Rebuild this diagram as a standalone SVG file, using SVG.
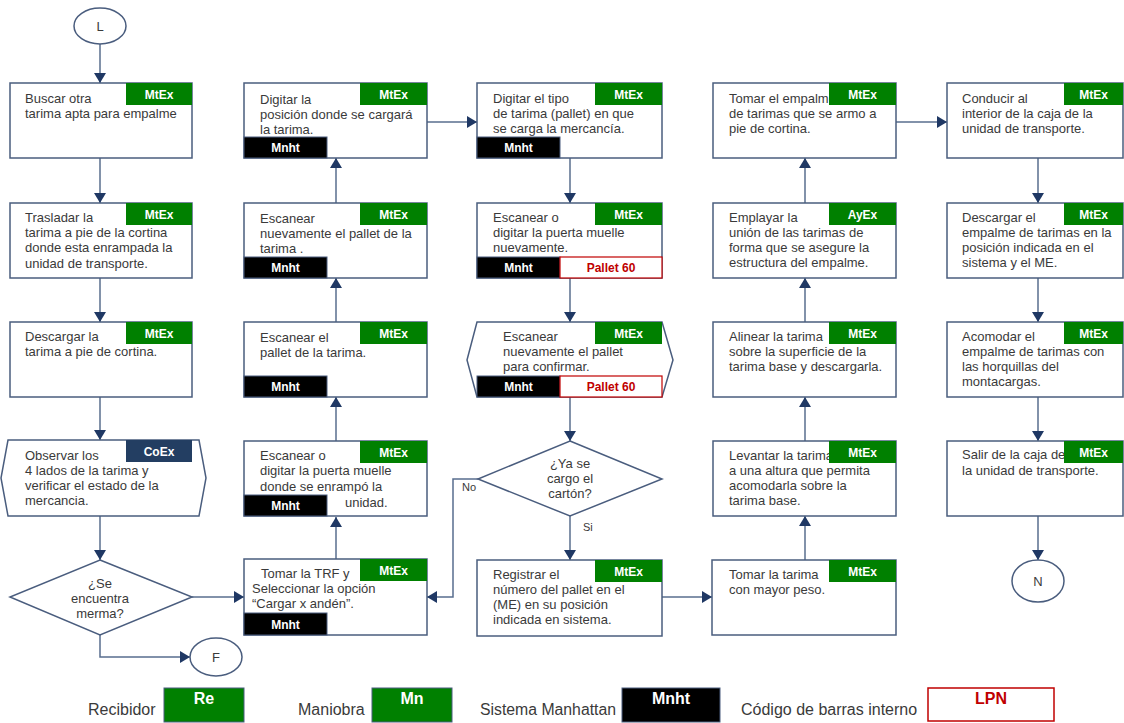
<svg xmlns="http://www.w3.org/2000/svg" width="1124" height="723" viewBox="0 0 1124 723">
<style>
.box{fill:#fff;stroke:#4A5D7E;stroke-width:1.5}
.t{font-family:"Liberation Sans",Arial,sans-serif;font-size:13px;fill:#3a3a3a}
.tc{font-family:"Liberation Sans",Arial,sans-serif;font-size:13px;fill:#3a3a3a;text-anchor:middle}
.sm{font-family:"Liberation Sans",Arial,sans-serif;font-size:11px;fill:#3a3a3a}
.g{fill:#008000}
.co{fill:#233E62}
.mn{fill:#000;stroke:#4A5D7E;stroke-width:1}
.p6{fill:#fff;stroke:#C00000;stroke-width:1.2}
.bt{font-family:"Liberation Sans",Arial,sans-serif;font-size:12px;font-weight:bold;fill:#fff;text-anchor:middle}
.rt{font-family:"Liberation Sans",Arial,sans-serif;font-size:12px;font-weight:bold;fill:#C00000;text-anchor:middle}
.ln{fill:none;stroke:#586E8E;stroke-width:1.5}
.lg{font-family:"Liberation Sans",Arial,sans-serif;font-size:16px;fill:#3a3a3a}
.lb{font-family:"Liberation Sans",Arial,sans-serif;font-size:16px;font-weight:bold;fill:#fff;text-anchor:middle}
.lr{font-family:"Liberation Sans",Arial,sans-serif;font-size:16px;font-weight:bold;fill:#C00000;text-anchor:middle}
</style>
<defs>
<marker id="ah" markerWidth="11" markerHeight="12" refX="10" refY="6" orient="auto" markerUnits="userSpaceOnUse">
<path d="M0,0 L10,6 L0,12 z" fill="#1F3864"/>
</marker>
</defs>
<rect width="1124" height="723" fill="#fff"/>

<g id="connectors">
<path class="ln" d="M100,44 V83" marker-end="url(#ah)"/>
<path class="ln" d="M100,158 V203" marker-end="url(#ah)"/>
<path class="ln" d="M100,278 V322" marker-end="url(#ah)"/>
<path class="ln" d="M100,397 V440" marker-end="url(#ah)"/>
<path class="ln" d="M100,516 V560" marker-end="url(#ah)"/>
<path class="ln" d="M192,597 H244" marker-end="url(#ah)"/>
<path class="ln" d="M100,635 V657 H190" marker-end="url(#ah)"/>
<path class="ln" d="M336,559 V517" marker-end="url(#ah)"/>
<path class="ln" d="M336,441 V397" marker-end="url(#ah)"/>
<path class="ln" d="M336,322 V278" marker-end="url(#ah)"/>
<path class="ln" d="M336,203 V158" marker-end="url(#ah)"/>
<path class="ln" d="M427,122 H477" marker-end="url(#ah)"/>
<path class="ln" d="M570,158 V203" marker-end="url(#ah)"/>
<path class="ln" d="M570,278 V322" marker-end="url(#ah)"/>
<path class="ln" d="M570,397 V441" marker-end="url(#ah)"/>
<path class="ln" d="M570,516 V560" marker-end="url(#ah)"/>
<path class="ln" d="M478,479 H453 V597 H427" marker-end="url(#ah)"/>
<path class="ln" d="M662,597 H712" marker-end="url(#ah)"/>
<path class="ln" d="M805,560 V516" marker-end="url(#ah)"/>
<path class="ln" d="M805,441 V397" marker-end="url(#ah)"/>
<path class="ln" d="M805,322 V278" marker-end="url(#ah)"/>
<path class="ln" d="M805,203 V158" marker-end="url(#ah)"/>
<path class="ln" d="M896,122 H947" marker-end="url(#ah)"/>
<path class="ln" d="M1038,158 V203" marker-end="url(#ah)"/>
<path class="ln" d="M1038,278 V322" marker-end="url(#ah)"/>
<path class="ln" d="M1038,397 V441" marker-end="url(#ah)"/>
<path class="ln" d="M1038,516 V560" marker-end="url(#ah)"/>
<text class="sm" x="462" y="491">No</text>
<text class="sm" x="583" y="531">Si</text>
</g>

<g id="start-L">
<ellipse class="box" cx="100" cy="26" rx="26" ry="18"/>
<text class="tc" x="100" y="31">L</text>
</g>

<g id="n-buscar">
<rect class="box" x="10" y="83" width="182" height="75"/>
<text class="t" x="25" y="103">Buscar otra</text>
<text class="t" x="25" y="118">tarima apta para empalme</text>
<rect class="g" x="126" y="83" width="66" height="22"/>
<text class="bt" x="159" y="99">MtEx</text>
</g>

<g id="n-trasladar">
<rect class="box" x="10" y="203" width="182" height="75"/>
<text class="t" x="25" y="222">Trasladar la</text>
<text class="t" x="25" y="237">tarima a pie de la cortina</text>
<text class="t" x="25" y="252">donde esta  enrampada la</text>
<text class="t" x="25" y="268">unidad de transporte.</text>
<rect class="g" x="126" y="203" width="66" height="22"/>
<text class="bt" x="159" y="219">MtEx</text>
</g>

<g id="n-descargar">
<rect class="box" x="10" y="322" width="182" height="75"/>
<text class="t" x="25" y="341">Descargar la</text>
<text class="t" x="25" y="356">tarima a pie de cortina.</text>
<rect class="g" x="126" y="322" width="66" height="22"/>
<text class="bt" x="159" y="338">MtEx</text>
</g>

<g id="n-observar">
<polygon class="box" points="8,440 199,440 206,478 199,516 8,516 1,478"/>
<text class="t" x="25" y="460">Observar los</text>
<text class="t" x="25" y="475">4 lados de la tarima y</text>
<text class="t" x="25" y="490">verificar el estado de la</text>
<text class="t" x="25" y="505">mercancia.</text>
<rect class="co" x="126" y="440" width="66" height="22"/>
<text class="bt" x="159" y="456">CoEx</text>
</g>

<g id="n-merma">
<polygon class="box" points="100,560 192,597 100,635 10,597"/>
<text class="tc" x="100" y="588">¿Se</text>
<text class="tc" x="100" y="603">encuentra</text>
<text class="tc" x="100" y="618">merma?</text>
</g>

<g id="end-F">
<ellipse class="box" cx="216" cy="657" rx="26" ry="19"/>
<text class="tc" x="216" y="662">F</text>
</g>

<g id="n-digitar-pos">
<rect class="box" x="244" y="83" width="183" height="75"/>
<text class="t" x="260" y="104">Digitar la</text>
<text class="t" x="260" y="119">posición donde se cargará</text>
<text class="t" x="260" y="134">la tarima.</text>
<rect class="g" x="360" y="83" width="67" height="22"/>
<text class="bt" x="393.5" y="99">MtEx</text>
<rect class="mn" x="244" y="137" width="83" height="21"/>
<text class="bt" x="285.5" y="152">Mnht</text>
</g>

<g id="n-escanear-nuev">
<rect class="box" x="244" y="203" width="183" height="75"/>
<text class="t" x="260" y="223">Escanear</text>
<text class="t" x="260" y="238">nuevamente el pallet de la</text>
<text class="t" x="260" y="253">tarima .</text>
<rect class="g" x="360" y="203" width="67" height="22"/>
<text class="bt" x="393.5" y="219">MtEx</text>
<rect class="mn" x="244" y="257" width="83" height="21"/>
<text class="bt" x="285.5" y="272">Mnht</text>
</g>

<g id="n-escanear-pallet">
<rect class="box" x="244" y="322" width="183" height="75"/>
<text class="t" x="260" y="342">Escanear el</text>
<text class="t" x="260" y="357">pallet de la tarima.</text>
<rect class="g" x="360" y="322" width="67" height="22"/>
<text class="bt" x="393.5" y="338">MtEx</text>
<rect class="mn" x="244" y="376" width="83" height="21"/>
<text class="bt" x="285.5" y="391">Mnht</text>
</g>

<g id="n-escanear-puerta">
<rect class="box" x="244" y="441" width="183" height="75"/>
<text class="t" x="260" y="460">Escanear o</text>
<text class="t" x="260" y="475">digitar la puerta muelle</text>
<text class="t" x="260" y="491">donde se enrampó la</text>
<text class="t" x="345" y="507">unidad.</text>
<rect class="g" x="360" y="441" width="67" height="22"/>
<text class="bt" x="393.5" y="457">MtEx</text>
<rect class="mn" x="244" y="495" width="83" height="21"/>
<text class="bt" x="285.5" y="510">Mnht</text>
</g>

<g id="n-tomar-trf">
<rect class="box" x="244" y="559" width="183" height="76"/>
<text class="t" x="261" y="578">Tomar la TRF y</text>
<text class="t" x="252" y="593">Seleccionar la opción</text>
<text class="t" x="252" y="608">“Cargar x andén”.</text>
<rect class="g" x="360" y="559" width="67" height="22"/>
<text class="bt" x="393.5" y="575">MtEx</text>
<rect class="mn" x="244" y="613" width="83" height="22"/>
<text class="bt" x="285.5" y="629">Mnht</text>
</g>

<g id="n-digitar-tipo">
<rect class="box" x="477" y="83" width="185" height="75"/>
<text class="t" x="493" y="103">Digitar el tipo</text>
<text class="t" x="493" y="118">de tarima (pallet) en que</text>
<text class="t" x="493" y="133">se carga la mercancía.</text>
<rect class="g" x="595" y="83" width="67" height="22"/>
<text class="bt" x="628.5" y="99">MtEx</text>
<rect class="mn" x="477" y="137" width="83" height="21"/>
<text class="bt" x="518.5" y="152">Mnht</text>
</g>

<g id="n-escanear-puerta2">
<rect class="box" x="477" y="203" width="185" height="75"/>
<text class="t" x="493" y="222">Escanear o</text>
<text class="t" x="493" y="237">digitar la puerta muelle</text>
<text class="t" x="493" y="252">nuevamente.</text>
<rect class="g" x="595" y="203" width="67" height="22"/>
<text class="bt" x="628.5" y="219">MtEx</text>
<rect class="mn" x="477" y="257" width="83" height="21"/>
<text class="bt" x="518.5" y="272">Mnht</text>
<rect class="p6" x="560" y="257" width="102" height="21"/>
<text class="rt" x="611" y="272">Pallet 60</text>
</g>

<g id="n-escanear-confirmar">
<polygon class="box" points="477,322 662,322 673,360 662,397 477,397 467,360"/>
<text class="t" x="503" y="341">Escanear</text>
<text class="t" x="503" y="356">nuevamente el pallet</text>
<text class="t" x="503" y="371">para confirmar.</text>
<rect class="g" x="595" y="322" width="67" height="22"/>
<text class="bt" x="628.5" y="338">MtEx</text>
<rect class="mn" x="477" y="376" width="83" height="21"/>
<text class="bt" x="518.5" y="391">Mnht</text>
<rect class="p6" x="560" y="376" width="102" height="21"/>
<text class="rt" x="611" y="391">Pallet 60</text>
</g>

<g id="n-carton">
<polygon class="box" points="570,441 662,479 570,516 478,479"/>
<text class="tc" x="570" y="468">¿Ya se</text>
<text class="tc" x="570" y="483">cargo el</text>
<text class="tc" x="570" y="498">cartón?</text>
</g>

<g id="n-registrar">
<rect class="box" x="477" y="560" width="185" height="76"/>
<text class="t" x="493" y="579">Registrar el</text>
<text class="t" x="493" y="594">número del pallet en el</text>
<text class="t" x="493" y="609">(ME) en su posición</text>
<text class="t" x="493" y="624">indicada en sistema.</text>
<rect class="g" x="595" y="560" width="67" height="22"/>
<text class="bt" x="628.5" y="576">MtEx</text>
</g>

<g id="n-tomar-empalme">
<rect class="box" x="713" y="83" width="183" height="75"/>
<text class="t" x="729" y="103">Tomar el empalme</text>
<text class="t" x="729" y="118">de tarimas que se armo a</text>
<text class="t" x="729" y="133">pie de cortina.</text>
<rect class="g" x="829" y="83" width="67" height="22"/>
<text class="bt" x="862.5" y="99">MtEx</text>
</g>

<g id="n-emplayar">
<rect class="box" x="713" y="203" width="183" height="75"/>
<text class="t" x="729" y="222">Emplayar la</text>
<text class="t" x="729" y="237">unión de las tarimas de</text>
<text class="t" x="729" y="252">forma que se asegure la</text>
<text class="t" x="729" y="267">estructura del empalme.</text>
<rect class="g" x="829" y="203" width="67" height="22"/>
<text class="bt" x="862.5" y="219">AyEx</text>
</g>

<g id="n-alinear">
<rect class="box" x="713" y="322" width="183" height="75"/>
<text class="t" x="729" y="341">Alinear la tarima</text>
<text class="t" x="729" y="356">sobre la superficie de la</text>
<text class="t" x="729" y="371">tarima base y  descargarla.</text>
<rect class="g" x="829" y="322" width="67" height="22"/>
<text class="bt" x="862.5" y="338">MtEx</text>
</g>

<g id="n-levantar">
<rect class="box" x="713" y="441" width="183" height="75"/>
<text class="t" x="729" y="460">Levantar  la tarima</text>
<text class="t" x="729" y="475">a una altura que permita</text>
<text class="t" x="729" y="490">acomodarla sobre la</text>
<text class="t" x="729" y="505">tarima base.</text>
<rect class="g" x="829" y="441" width="67" height="22"/>
<text class="bt" x="862.5" y="457">MtEx</text>
</g>

<g id="n-tomar-tarima">
<rect class="box" x="712" y="560" width="184" height="75"/>
<text class="t" x="729" y="579">Tomar la tarima</text>
<text class="t" x="729" y="594">con mayor peso.</text>
<rect class="g" x="829" y="560" width="67" height="22"/>
<text class="bt" x="862.5" y="576">MtEx</text>
</g>

<g id="n-conducir">
<rect class="box" x="947" y="83" width="176" height="75"/>
<text class="t" x="962" y="103">Conducir al</text>
<text class="t" x="962" y="118">interior de la caja de la</text>
<text class="t" x="962" y="133">unidad de transporte.</text>
<rect class="g" x="1064" y="83" width="59" height="22"/>
<text class="bt" x="1093.5" y="99">MtEx</text>
</g>

<g id="n-descargar-empalme">
<rect class="box" x="947" y="203" width="176" height="75"/>
<text class="t" x="962" y="222">Descargar el</text>
<text class="t" x="962" y="237">empalme de tarimas en la</text>
<text class="t" x="962" y="252">posición indicada en el</text>
<text class="t" x="962" y="267">sistema y el ME.</text>
<rect class="g" x="1064" y="203" width="59" height="22"/>
<text class="bt" x="1093.5" y="219">MtEx</text>
</g>

<g id="n-acomodar">
<rect class="box" x="947" y="322" width="176" height="75"/>
<text class="t" x="962" y="341">Acomodar el</text>
<text class="t" x="962" y="356">empalme de tarimas con</text>
<text class="t" x="962" y="371">las horquillas del</text>
<text class="t" x="962" y="386">montacargas.</text>
<rect class="g" x="1064" y="322" width="59" height="22"/>
<text class="bt" x="1093.5" y="338">MtEx</text>
</g>

<g id="n-salir">
<rect class="box" x="947" y="441" width="176" height="75"/>
<text class="t" x="962" y="459">Salir de la caja de</text>
<text class="t" x="962" y="475">la unidad de transporte.</text>
<rect class="g" x="1064" y="441" width="59" height="22"/>
<text class="bt" x="1093.5" y="457">MtEx</text>
</g>

<g id="end-N">
<ellipse class="box" cx="1038" cy="581" rx="26" ry="21"/>
<text class="tc" x="1038" y="586">N</text>
</g>

<g id="legend">
<text class="lg" x="88" y="715">Recibidor</text>
<rect x="164" y="688" width="80" height="34" fill="#008000" stroke="#4A5D7E" stroke-width="1"/>
<text class="lb" x="204" y="704">Re</text>
<text class="lg" x="298" y="715">Maniobra</text>
<rect x="372" y="688" width="80" height="34" fill="#008000" stroke="#4A5D7E" stroke-width="1"/>
<text class="lb" x="412" y="704">Mn</text>
<text class="lg" x="480" y="715" textLength="136" lengthAdjust="spacingAndGlyphs">Sistema Manhattan</text>
<rect x="622" y="688" width="98" height="34" fill="#000" stroke="#4A5D7E" stroke-width="1"/>
<text class="lb" x="671" y="704">Mnht</text>
<text class="lg" x="741" y="715">Código de barras interno</text>
<rect x="928" y="688" width="126" height="33" fill="#fff" stroke="#C00000" stroke-width="1.5"/>
<text class="lr" x="991" y="704">LPN</text>
</g>
</svg>
